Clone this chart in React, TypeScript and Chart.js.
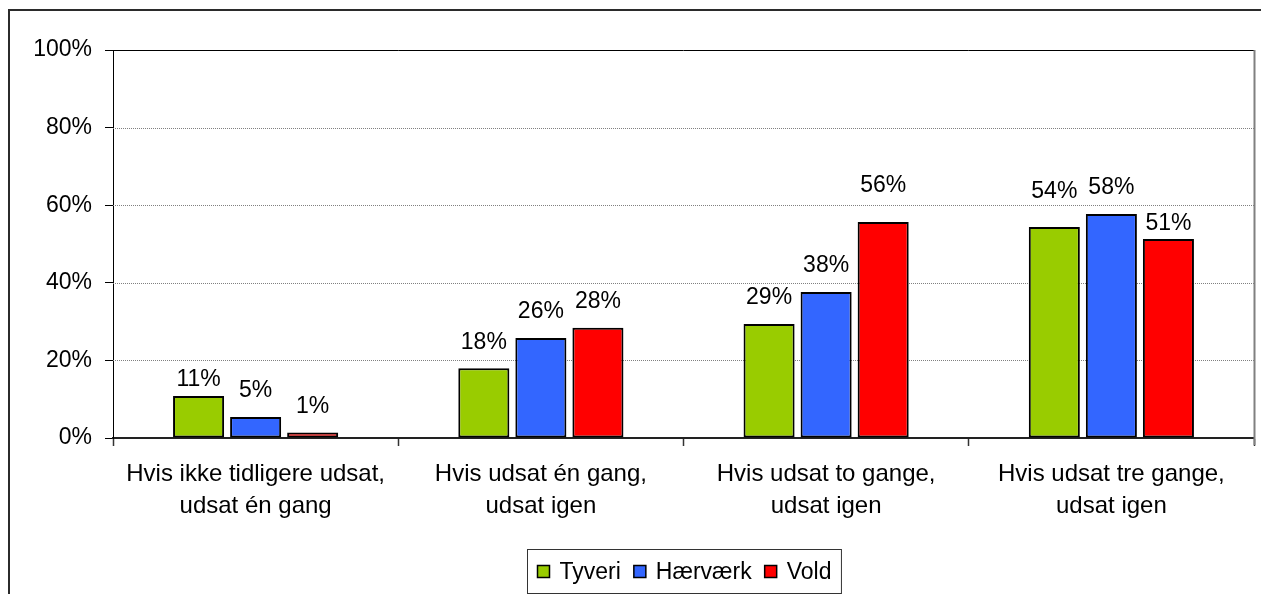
import React, { useEffect, useRef } from "react";
import { Chart, registerables } from "chart.js";

Chart.register(...registerables);

const categories: string[][] = [
  ["Hvis ikke tidligere udsat,", "udsat én gang"],
  ["Hvis udsat én gang,", "udsat igen"],
  ["Hvis udsat to gange,", "udsat igen"],
  ["Hvis udsat tre gange,", "udsat igen"],
];
const seriesNames = ["Tyveri", "Hærværk", "Vold"];
const tyveri = [10.8, 18.0, 29.4, 54.4];
const haervaerk = [5.4, 25.8, 37.6, 57.7];
const vold = [1.4, 28.4, 55.7, 51.3];
const yTicks = [0, 20, 40, 60, 80, 100];

const colors = ["#99CC00", "#3366FF", "#FF0000"];
// vertical nudges of the value labels (style only)
const labelNudge = [
  [10, 0, 0, -9],
  [0, 0, 0, 0],
  [0, 0, -10, 11],
];

const FONT = '"Liberation Sans", Arial, sans-serif';

const decorPlugin = {
  id: "decor",
  beforeDraw(chart: any) {
    const { ctx, width, height } = chart;
    ctx.save();
    ctx.fillStyle = "#fff";
    ctx.fillRect(0, 0, width, height);
    ctx.strokeStyle = "#2b2b2b";
    ctx.lineWidth = 2;
    ctx.strokeRect(9, 10, width + 20, height + 20);
    ctx.restore();
  },
  beforeDatasetsDraw(chart: any) {
    const { ctx, chartArea } = chart;
    const y = chart.scales.y;
    ctx.save();
    ctx.strokeStyle = "#808080";
    ctx.lineWidth = 1;
    ctx.setLineDash([1, 1]);
    yTicks.forEach((v) => {
      if (v === 0 || v === 100) return;
      const py = Math.round(y.getPixelForValue(v)) + 0.5;
      ctx.beginPath();
      ctx.moveTo(chartArea.left, py);
      ctx.lineTo(chartArea.right, py);
      ctx.stroke();
    });
    ctx.setLineDash([]);
    const top = Math.round(y.getPixelForValue(100)) + 0.5;
    ctx.strokeStyle = "#000";
    ctx.beginPath();
    ctx.moveTo(chartArea.left, top);
    ctx.lineTo(chartArea.right, top);
    ctx.stroke();
    ctx.strokeStyle = "#808080";
    ctx.lineWidth = 2;
    ctx.beginPath();
    ctx.moveTo(chartArea.right + 0.5, top - 0.5);
    ctx.lineTo(chartArea.right + 0.5, chartArea.bottom + 7);
    ctx.stroke();
    ctx.restore();
  },
  afterDatasetsDraw(chart: any) {
    const { ctx } = chart;
    ctx.save();
    ctx.font = `23px ${FONT}`;
    ctx.fillStyle = "#000";
    ctx.textAlign = "center";
    ctx.textBaseline = "middle";
    chart.data.datasets.forEach((ds: any, di: number) => {
      const meta = chart.getDatasetMeta(di);
      meta.data.forEach((el: any, i: number) => {
        const txt = Math.round(ds.data[i]) + "%";
        ctx.fillText(txt, el.x, el.y - 26 + labelNudge[di][i]);
      });
    });
    ctx.restore();
  },
  afterDraw(chart: any) {
    const { ctx, chartArea } = chart;
    ctx.save();
    ctx.font = `23px ${FONT}`;
    const pad = 10;
    const sq = 12;
    const sqGap = 10;
    const itemGap = 13;
    const items = chart.data.datasets.map((ds: any) => ({
      label: ds.label,
      color: ds.backgroundColor,
      w: ctx.measureText(ds.label).width,
    }));
    let total = pad * 2;
    items.forEach((it: any, i: number) => {
      total += sq + sqGap + it.w + (i < items.length - 1 ? itemGap : 0);
    });
    const cx = (chartArea.left + chartArea.right) / 2;
    const boxLeft = Math.round(cx - total / 2) + 0.5;
    const boxTop = 549.5;
    const boxH = 44;
    ctx.strokeStyle = "#333";
    ctx.lineWidth = 1;
    ctx.strokeRect(boxLeft, boxTop, total, boxH);
    const cy = boxTop + 22;
    let x = boxLeft + pad;
    items.forEach((it: any) => {
      ctx.fillStyle = it.color;
      ctx.fillRect(x, cy - sq / 2, sq, sq);
      ctx.strokeStyle = "#000";
      ctx.lineWidth = 1.5;
      ctx.strokeRect(x, cy - sq / 2, sq, sq);
      ctx.fillStyle = "#000";
      ctx.textAlign = "left";
      ctx.textBaseline = "middle";
      ctx.fillText(it.label, x + sq + sqGap, cy + 1);
      x += sq + sqGap + it.w + itemGap;
    });
    ctx.restore();
  },
};

export default function App() {
  const ref = useRef<HTMLCanvasElement>(null);
  useEffect(() => {
    document.body.style.margin = "0";
    document.body.style.overflow = "hidden";
    const canvas = ref.current!;
    const series = [tyveri, haervaerk, vold];
    const chart = new Chart(canvas, {
      type: "bar",
      data: {
        labels: categories,
        datasets: series.map((d, i) => ({
          label: seriesNames[i],
          data: d,
          backgroundColor: colors[i],
          borderColor: "#000",
          borderWidth: 2,
          borderSkipped: false,
          categoryPercentage: 0.6,
          barPercentage: 0.895,
        })),
      },
      options: {
        animation: false,
        responsive: false,
        maintainAspectRatio: false,
        devicePixelRatio: 1,
        layout: { padding: { left: 0, right: 7, top: 50, bottom: 0 } },
        plugins: {
          legend: { display: false },
          tooltip: { enabled: false },
        },
        scales: {
          x: {
            offset: true,
            grid: {
              offset: true,
              drawOnChartArea: false,
              drawTicks: true,
              tickLength: 8,
              tickColor: "#333",
              tickWidth: 1.5,
            },
            border: { display: true, color: "#222", width: 2 },
            ticks: {
              color: "#000",
              padding: 12,
              maxRotation: 0,
              autoSkip: false,
              font: { family: FONT, size: 24, lineHeight: 1.33 },
            },
            afterFit: (s: any) => {
              s.height = 156;
            },
          },
          y: {
            min: 0,
            max: 100,
            afterBuildTicks: (s: any) => {
              s.ticks = yTicks.map((v) => ({ value: v }));
            },
            grid: {
              drawOnChartArea: false,
              drawTicks: true,
              tickLength: 8,
              tickColor: "#000",
            },
            border: { display: true, color: "#000", width: 1 },
            ticks: {
              color: "#000",
              padding: 13,
              font: { family: FONT, size: 23 },
              callback: (v: any) => v + "%",
            },
            afterFit: (s: any) => {
              s.width = 113;
            },
          },
        },
      },
      plugins: [decorPlugin],
    });
    return () => chart.destroy();
  }, []);
  return (
    <canvas
      ref={ref}
      width={1261}
      height={594}
      style={{ display: "block", width: 1261, height: 594 }}
    />
  );
}
